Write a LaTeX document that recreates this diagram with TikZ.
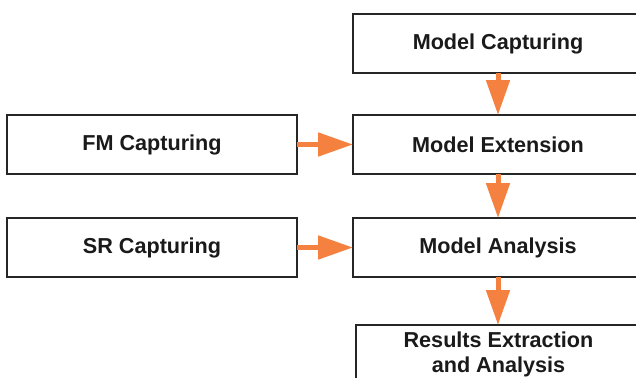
\documentclass[tikz,border=0pt]{standalone}
\usepackage{fontspec}
\setmainfont{Liberation Sans}
\usetikzlibrary{positioning,arrows.meta}
\definecolor{mcborda}{HTML}{262626}
\definecolor{mctexto}{HTML}{1A1A1A}
\definecolor{mclaranja}{HTML}{F58140}
\tikzset{
  mcbloco/.style={draw=mcborda, fill=white, line width=0.6pt, align=center, text=mctexto,
                  font=\fontsize{12.3pt}{14.6pt}\selectfont\bfseries, inner sep=0pt, outer sep=0pt,
                  minimum width=5.8cm, minimum height=1.18cm},
  mcseta/.style={-{Triangle[length=0.7cm, width=0.46cm]}, line width=0.1cm, draw=mclaranja, fill=mclaranja},
}
\begin{document}
\begin{tikzpicture}[
        res/.style={mcbloco, minimum width=5.7cm}
    ]
        \clip (0,0) rectangle (12.72,-7.56);
        % entradas (coluna esquerda)
        \node[mcbloco] (fm) at (3.04,-2.89) {FM Capturing};
        \node[mcbloco] (sr) at (3.04,-4.95) {SR Capturing};
        % cadeia do modelo (coluna direita)
        \node[mcbloco] (cap) at (9.96,-0.87) {Model Capturing};
        \node[mcbloco] (ext) at (9.96,-2.89) {Model Extension};
        \node[mcbloco] (ana) at (9.96,-4.95) {Model Analysis};
        \node[res] (out) at (9.97,-7.09) {Results Extraction\\and Analysis};
        % fluxos
        \draw[mcseta] (cap) -- (ext);
        \draw[mcseta] (ext) -- (ana);
        \draw[mcseta] (ana.south) -- (out.north -| ana.south);
        \draw[mcseta] (fm) -- (ext);
        \draw[mcseta] (sr) -- (ana);
    \end{tikzpicture}
\end{document}
